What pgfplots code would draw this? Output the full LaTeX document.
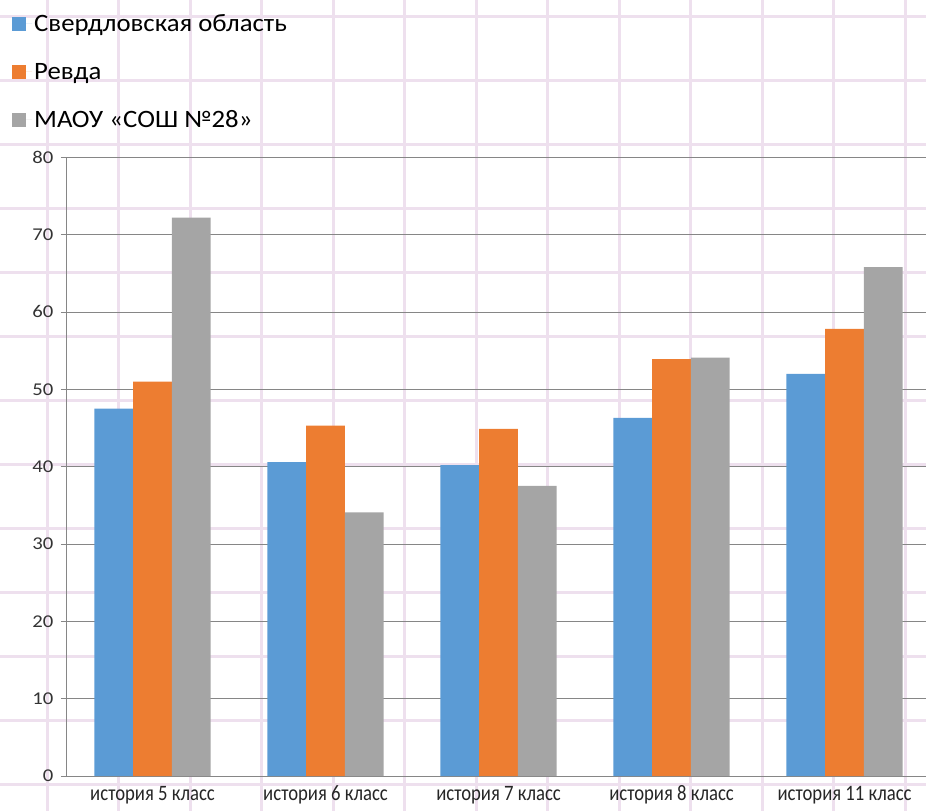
\documentclass[border=0pt]{standalone}
\usepackage{fontspec}
\setmainfont{Carlito}
\newfontfamily\legfont{Carlito}[FakeStretch=1.07]
\newfontfamily\yfont{Carlito}[FakeStretch=1.15]
\newfontfamily\xfont{Carlito}[FakeStretch=0.85]
\usepackage{pgfplots}
\pgfplotsset{compat=1.18}
\definecolor{sblue}{RGB}{91,155,213}
\definecolor{sorange}{RGB}{237,125,49}
\definecolor{sgray}{RGB}{165,165,165}
\definecolor{bggrid}{RGB}{238,224,238}
\definecolor{axgray}{RGB}{134,134,134}
\begin{document}
\begin{tikzpicture}[x=1pt,y=1pt]
\foreach \i in {0,...,12} \draw[bggrid, line width=3pt] ({47+71.5*\i},0) -- ({47+71.5*\i},811);
\foreach \j in {0,...,12} \draw[bggrid, line width=3pt] (0,{811-17-64*\j}) -- (926,{811-17-64*\j});
\begin{axis}[
  at={(152.5pt,35pt)}, anchor=origin,
  scale only axis, width=860pt, height=618.7pt,
  xmin=-0.5, xmax=4.471, ymin=0, ymax=80,
  ytick={0,10,...,80},
  ymajorgrids, grid style={axgray, line width=0.8pt},
  axis x line*=bottom, axis y line*=left,
  axis line style={axgray, line width=0.8pt},
  tick style={axgray, line width=0.8pt},
  tick align=outside, major tick length=5pt,
  /pgf/number format/assume math mode=true,
  yticklabel style={font=\yfont\fontsize{18}{20}\selectfont, color=black!80, xshift=-4pt},
  xtick={0,...,4},
  xticklabels={история 5 класс, история 6 класс, история 7 класс, история 8 класс, история 11 класс},
  x tick style={draw=none},
  xticklabel style={font=\xfont\fontsize{22}{24}\selectfont, color=black!85, text height=14pt, text depth=5pt, yshift=-2pt},
  extra x ticks={-0.5,0.5,1.5,2.5,3.5},
  extra x tick labels={},
  extra x tick style={major tick length=8pt, tick style={draw=axgray, line width=0.8pt}},
  ybar=0pt, bar width=38.7pt,
  legend style={at={(0,1)}, anchor=north west, xshift=-57pt, yshift=147pt, draw=none, fill=none,
    font=\legfont\fontsize{25}{30}\selectfont, row sep=26pt, legend cell align=left},
  legend image code/.code={\fill[#1] (0pt,-7pt) rectangle (14pt,7pt); \path (0pt,0pt) -- (20pt,0pt);},
]
\addplot[fill=sblue, draw=none] coordinates {(0,47.5) (1,40.6) (2,40.2) (3,46.3) (4,52.0)};
\addplot[fill=sorange, draw=none] coordinates {(0,51.0) (1,45.3) (2,44.9) (3,53.9) (4,57.8)};
\addplot[fill=sgray, draw=none] coordinates {(0,72.2) (1,34.1) (2,37.5) (3,54.1) (4,65.8)};
\legend{Свердловская область, Ревда, МАОУ «СОШ №28»}
\end{axis}
\pgfresetboundingbox
\useasboundingbox (0,0) rectangle (926,811);
\end{tikzpicture}
\end{document}
